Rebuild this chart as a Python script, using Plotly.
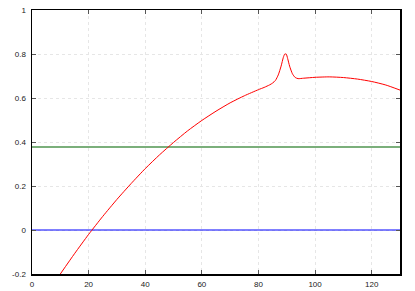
import plotly.graph_objects as go

# Red curve samples
curve_x = [10, 15, 20, 25, 30, 35, 40, 45, 50, 55, 60, 65, 70, 75, 80, 82, 84, 85, 86, 87, 88,
           88.8, 89.3, 89.8, 90.3, 91, 92, 93, 94, 96, 100, 105, 110, 115, 120, 125, 130]
curve_y = [-0.200, -0.108, -0.020, 0.062, 0.139, 0.211, 0.279, 0.341, 0.398, 0.451, 0.498,
           0.540, 0.578, 0.610, 0.638, 0.648, 0.660, 0.668, 0.680, 0.705, 0.745,
           0.785, 0.800, 0.800, 0.780, 0.745, 0.710, 0.693, 0.688, 0.690, 0.694, 0.696,
           0.693, 0.686, 0.675, 0.659, 0.636]

# Horizontal reference levels
line_x = [0, 130]
green_level = 0.377
blue_level = 0.0

x_ticks = [0, 20, 40, 60, 80, 100, 120]
y_ticks = [-0.2, 0, 0.2, 0.4, 0.6, 0.8, 1]
y_tick_text = ["-0.2", "0", "0.2", "0.4", "0.6", "0.8", "1"]

fig = go.Figure()
fig.add_trace(go.Scatter(x=line_x, y=[green_level, green_level], mode="lines",
                         line=dict(color="#4f944f", width=1.4), showlegend=False))
fig.add_trace(go.Scatter(x=line_x, y=[blue_level, blue_level], mode="lines",
                         line=dict(color="#0000ff", width=1), showlegend=False))
fig.add_trace(go.Scatter(x=curve_x, y=curve_y, mode="lines",
                         line=dict(color="#ff0000", width=1, shape="spline", smoothing=0.6),
                         showlegend=False))

axis_common = dict(
    showline=True, linecolor="#000000", linewidth=1.5, mirror="allticks",
    ticks="inside", ticklen=4, tickcolor="#555555", tickwidth=1,
    showgrid=True, gridcolor="#e6e6e6", griddash="dot", gridwidth=1,
    zeroline=False, automargin=False,
    tickfont=dict(family="Liberation Sans, Arial, sans-serif", size=8, color="#222222"),
)

fig.update_xaxes(range=[0, 130], tickvals=x_ticks, ticklabelstandoff=2, **axis_common)
fig.update_yaxes(range=[-0.2, 1], tickvals=y_ticks, ticktext=y_tick_text, ticklabelstandoff=3, **axis_common)

fig.update_layout(
    width=415, height=291,
    margin=dict(l=32, r=15, t=10, b=17),
    paper_bgcolor="white", plot_bgcolor="white",
    hovermode=False,
)

fig.write_html("out.html", config={"displayModeBar": False, "staticPlot": True},
               post_script="document.body.style.margin='0';")
